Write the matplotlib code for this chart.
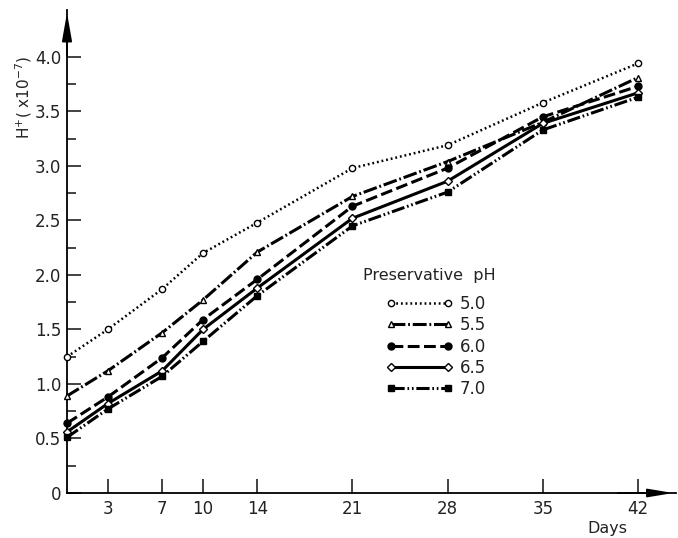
import matplotlib
matplotlib.use("Agg")
import matplotlib.pyplot as plt
from matplotlib.ticker import FixedLocator

plt.rcParams['font.family'] = ['DejaVu Sans']
plt.rcParams['lines.scale_dashes'] = False

# H+ concentration (x 10^-7) by storage day for each preservative pH
days = [0, 3, 7, 10, 14, 21, 28, 35, 42]
ph_labels = ['5.0', '5.5', '6.0', '6.5', '7.0']
h_50 = [1.25, 1.50, 1.87, 2.20, 2.48, 2.98, 3.19, 3.58, 3.94]
h_55 = [0.89, 1.12, 1.47, 1.77, 2.21, 2.72, 3.04, 3.40, 3.81]
h_60 = [0.64, 0.88, 1.24, 1.59, 1.96, 2.63, 2.98, 3.45, 3.73]
h_65 = [0.56, 0.82, 1.12, 1.50, 1.88, 2.52, 2.86, 3.39, 3.67]
h_70 = [0.51, 0.77, 1.07, 1.39, 1.81, 2.45, 2.76, 3.33, 3.63]
x_ticks = [3, 7, 10, 14, 21, 28, 35, 42]
y_ticks = [0, 0.5, 1.0, 1.5, 2.0, 2.5, 3.0, 3.5, 4.0]
y_ticklabels = ['0', '0.5', '1.0', '1.5', '2.0', '2.5', '3.0', '3.5', '4.0']
y_minor = [0.25, 0.75, 1.25, 1.75, 2.25, 2.75, 3.25, 3.75]

series = [h_50, h_55, h_60, h_65, h_70]
styles = [
    dict(dashes=(1.3, 2.1), lw=1.8, marker='o', mfc='white', ms=4.5),
    dict(dashes=(10, 2, 1.3, 2), lw=2.2, marker='^', mfc='white', ms=5),
    dict(dashes=(8.5, 3.2), lw=2.2, marker='o', mfc='black', ms=5),
    dict(dashes=(None, None), lw=2.2, marker='D', mfc='white', ms=4.5),
    dict(dashes=(9.5, 2, 1.2, 2, 1.2, 2), lw=2.2, marker='s', mfc='black', ms=5),
]

fig = plt.figure(figsize=(6.78, 5.38), dpi=100)
ax = fig.add_axes([67 / 678, 45 / 538, 609 / 678, 483 / 538])

lines = []
for vals, st in zip(series, styles):
    st = dict(st)
    dashes = st.pop('dashes')
    ln, = ax.plot(days, vals, color='black', mec='black', mew=1.0,
                  clip_on=False, zorder=3, **st)
    if dashes[0] is not None:
        ln.set_dashes(dashes)
    lines.append(ln)

ax.set_xlim(0, 44.8)
ax.set_ylim(0, 4.43)

for side in ['top', 'right']:
    ax.spines[side].set_visible(False)
for side in ['left', 'bottom']:
    ax.spines[side].set_linewidth(1.3)

# arrow heads on both axes
ax.annotate('', xy=(0, 1.0), xytext=(0, 0.9), xycoords='axes fraction',
            arrowprops=dict(arrowstyle='-|>,head_length=1.7,head_width=0.3',
                            color='black', lw=1.3, mutation_scale=10))
ax.annotate('', xy=(1.0, 0), xytext=(0.9, 0), xycoords='axes fraction',
            arrowprops=dict(arrowstyle='-|>,head_length=1.5,head_width=0.25',
                            color='black', lw=1.3, mutation_scale=10))

ax.set_xticks(x_ticks)
ax.set_xticklabels([str(t) for t in x_ticks])
ax.set_yticks(y_ticks)
ax.set_yticklabels(y_ticklabels)
ax.yaxis.set_minor_locator(FixedLocator(y_minor))
ax.tick_params(axis='both', which='both', direction='in', width=1.2,
               labelsize=12, colors='#222222')
ax.tick_params(axis='x', which='major', length=10, pad=5)
ax.tick_params(axis='y', which='major', length=10, pad=4)
ax.tick_params(axis='y', which='minor', length=6.5)

ax.text(-0.071, 0.818, 'H$^{+}$( x10$^{-7}$)', rotation=90, fontsize=11,
        ha='center', va='center', transform=ax.transAxes, color='#222222')
ax.text(0.887, -0.074, 'Days', fontsize=11.5, ha='center', va='center',
        transform=ax.transAxes, color='#222222')

ax.text(0.486, 0.451, 'Preservative  pH', fontsize=11.5, ha='left',
        va='center', transform=ax.transAxes, color='#222222')
leg = ax.legend(lines, ph_labels, numpoints=2, handlelength=4.0,
                handletextpad=0.4, labelspacing=0.2, frameon=False,
                loc='upper left', bbox_to_anchor=(0.524, 0.41),
                borderaxespad=0, borderpad=0, fontsize=12)
for t in leg.get_texts():
    t.set_color('#222222')

fig.savefig('out.png', dpi=100)
